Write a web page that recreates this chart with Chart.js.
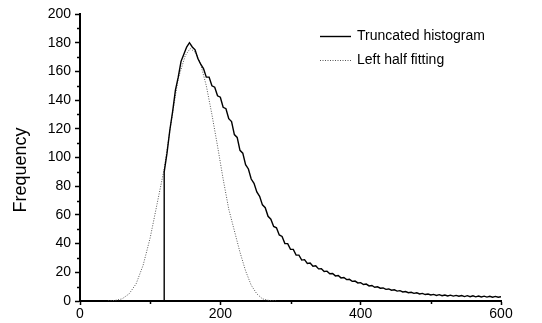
<!DOCTYPE html>
<html>
<head>
<meta charset="utf-8">
<script src="https://cdn.jsdelivr.net/npm/chart.js@4.4.0/dist/chart.umd.min.js"></script>
<style>
    html, body { margin: 0; padding: 0; background: #fff; }
</style>
</head>
<body>
<canvas id="chart" width="542" height="323"></canvas>
<script>
// histogram bins: start at 120, one value every 4 units
const histStart = 120;
const histStep = 4;
const histValues = [
    90, 103, 119, 132, 147, 156, 167, 172, 177, 180,
    177, 175, 169, 165, 162, 156, 156, 150, 149, 143,
    142, 135, 134, 127, 125, 116, 114, 105, 103, 95,
    92, 85, 82, 76, 73, 67, 65, 59, 57, 52,
    51, 46, 45, 40, 40, 36, 36, 32, 32, 28.5,
    28.8, 26.2, 26.5, 24.3, 24.6, 22.4, 22.5, 20.6, 20.8, 19.0,
    19.2, 17.5, 17.8, 16.1, 16.4, 14.9, 15.1, 13.7, 13.9, 12.6,
    12.8, 11.5, 11.8, 10.5, 10.8, 9.6, 9.9, 8.9, 9.1, 8.1,
    8.4, 7.5, 7.8, 6.9, 7.2, 6.3, 6.6, 5.8, 6.1, 5.3,
    5.7, 4.9, 5.3, 4.5, 4.9, 4.2, 4.6, 3.9, 4.4, 3.7,
    4.2, 3.5, 4.1, 3.4, 3.9, 3.3, 3.8, 3.1, 3.7, 3.0,
    3.6, 2.9, 3.5, 2.8, 3.4, 2.7, 3.3, 2.6, 3.2, 2.6,
    3.0
];

// left half fitting curve
const fitX = [40, 50, 60, 70, 80, 90, 100, 110, 120, 130, 140, 150, 157, 165, 172, 180, 188, 196, 204, 212, 220, 228, 236, 244, 252, 260, 270, 280];
const fitY = [0, 0.4, 1.5, 5, 12, 25, 44, 68, 92, 125, 155, 171, 176, 173, 165, 150, 130, 108, 85, 64, 49, 34, 21, 11, 5, 1.5, 0.3, 0];

const xTicks = [0, 200, 400, 600];
const xMinor = [100, 300, 500];
const yTicks = [0, 20, 40, 60, 80, 100, 120, 140, 160, 180, 200];
const yMinor = [10, 30, 50, 70, 90, 110, 130, 150, 170, 190];

const FONT = 'Liberation Sans, Arial, sans-serif';

// histogram starts with a vertical edge at the truncation point
let histPoints = [{ x: histStart, y: 0 }];
histValues.forEach((v, i) => histPoints.push({ x: histStart + i * histStep, y: v }));
const fitPoints = fitX.map((x, i) => ({ x: x, y: fitY[i] }));

const extras = {
    id: 'extras',
    afterDraw(chart) {
        const ctx = chart.ctx;
        const x = chart.scales.x, y = chart.scales.y;
        ctx.save();
        ctx.strokeStyle = '#000';
        ctx.lineWidth = 1.5;
        // minor ticks
        yMinor.forEach(v => {
            const py = Math.round(y.getPixelForValue(v)) + 0.5;
            ctx.beginPath();
            ctx.moveTo(y.right - 3, py);
            ctx.lineTo(y.right, py);
            ctx.stroke();
        });
        xMinor.forEach(v => {
            const px = Math.round(x.getPixelForValue(v)) + 0.5;
            ctx.beginPath();
            ctx.moveTo(px, x.top);
            ctx.lineTo(px, x.top + 3);
            ctx.stroke();
        });

        // y title
        ctx.fillStyle = '#000';
        ctx.font = '18px ' + FONT;
        ctx.textAlign = 'center';
        ctx.textBaseline = 'middle';
        ctx.translate(21, 170);
        ctx.rotate(-Math.PI / 2);
        ctx.fillText('Frequency', 0, 0);
        ctx.restore();

        // legend
        ctx.save();
        ctx.font = '14px ' + FONT;
        ctx.textAlign = 'left';
        ctx.textBaseline = 'middle';
        ctx.fillStyle = '#000';
        chart.data.datasets.forEach((ds, i) => {
            const ly = 36 + i * 24;
            ctx.strokeStyle = ds.borderColor;
            ctx.lineWidth = ds.borderWidth;
            ctx.setLineDash(ds.borderDash || []);
            ctx.beginPath();
            ctx.moveTo(320, ly + 0.5);
            ctx.lineTo(351, ly + 0.5);
            ctx.stroke();
            ctx.fillText(ds.label, 357, ly);
        });
        ctx.restore();
    }
};

new Chart(document.getElementById('chart'), {
    type: 'line',
    data: {
        datasets: [{
            label: 'Truncated histogram',
            data: histPoints,
            borderColor: '#000',
            borderWidth: 1.4,
            pointRadius: 0
        }, {
            label: 'Left half fitting',
            data: fitPoints,
            borderColor: '#555',
            borderWidth: 1,
            borderDash: [1, 1.5],
            pointRadius: 0
        }]
    },
    options: {
        responsive: false,
        animation: false,
        layout: { padding: { left: 0, right: 41, top: 14, bottom: 0 } },
        plugins: { legend: { display: false }, tooltip: { enabled: false } },
        elements: { line: { tension: 0 } },
        scales: {
            x: {
                type: 'linear',
                min: 0,
                max: 600,
                afterBuildTicks: s => { s.ticks = xTicks.map(v => ({ value: v })); },
                afterFit: s => { s.height = 22; },
                grid: { drawOnChartArea: false, tickLength: 4, tickColor: '#000', tickWidth: 1.5 },
                border: { display: true, color: '#000', width: 2 },
                ticks: { color: '#000', font: { family: FONT, size: 14 }, padding: 1, maxRotation: 0, autoSkip: false }
            },
            y: {
                type: 'linear',
                min: 0,
                max: 200,
                afterBuildTicks: s => { s.ticks = yTicks.map(v => ({ value: v })); },
                afterFit: s => { s.width = 80; },
                grid: { drawOnChartArea: false, tickLength: 5, tickColor: '#000', tickWidth: 1.5 },
                border: { display: true, color: '#000', width: 2 },
                ticks: { color: '#000', font: { family: FONT, size: 14 }, padding: 4, autoSkip: false }
            }
        }
    },
    plugins: [extras]
});
</script>
</body>
</html>
